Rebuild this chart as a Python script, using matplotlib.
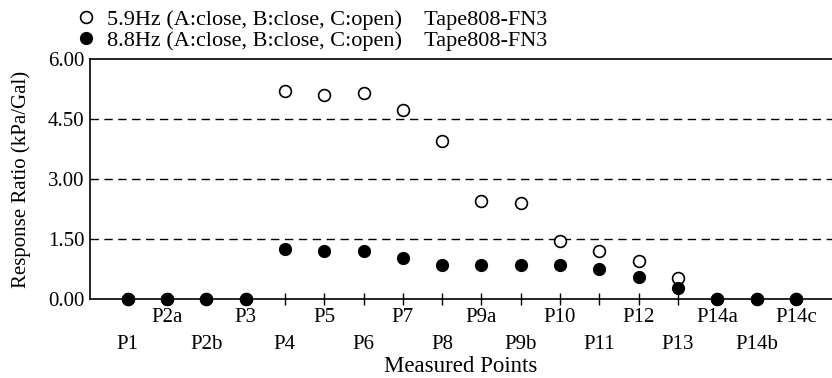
import matplotlib
matplotlib.use('Agg')
import matplotlib.pyplot as plt

plt.rcParams['font.family'] = ['Liberation Serif', 'DejaVu Serif']

# measured points, left to right
points = ['P1', 'P2a', 'P2b', 'P3', 'P4', 'P5', 'P6', 'P7', 'P8', 'P9a',
          'P9b', 'P10', 'P11', 'P12', 'P13', 'P14a', 'P14b', 'P14c']

# response ratio (kPa/Gal)
ratio_59 = [0.0, 0.0, 0.0, 0.0, 5.21, 5.10, 5.14, 4.72, 3.95, 2.45,
            2.39, 1.46, 1.20, 0.95, 0.52, 0.0, 0.0, 0.0]
ratio_88 = [0.0, 0.0, 0.0, 0.0, 1.24, 1.21, 1.21, 1.03, 0.85, 0.85,
            0.85, 0.85, 0.74, 0.56, 0.28, 0.0, 0.0, 0.0]

label_59 = '5.9Hz (A:close, B:close, C:open)    Tape808-FN3'
label_88 = '8.8Hz (A:close, B:close, C:open)    Tape808-FN3'

yticks = [0.0, 1.5, 3.0, 4.5, 6.0]

fig = plt.figure(figsize=(8.32, 3.78), dpi=100)
ax = fig.add_axes([90 / 832, 1 - 299 / 378, 1 - 90 / 832, 240 / 378])

x = list(range(1, len(points) + 1))

h1, = ax.plot(x, ratio_59, 'o', mfc='white', mec='black', mew=1.2,
              ms=8.5, clip_on=False, zorder=3, label=label_59)
h2, = ax.plot(x, ratio_88, 'o', color='black', ms=8.5,
              clip_on=False, zorder=4, label=label_88)

for yv in yticks[1:-1]:
    ax.axhline(yv, color='black', lw=1.0, ls=(0, (6, 4)), zorder=1)

ax.set_xlim(0.04, 18.92)
ax.set_ylim(0, 6)

ax.set_yticks(yticks)
ax.set_yticklabels(['%.2f' % v for v in yticks], fontsize=15)
ax.tick_params(axis='y', length=0, pad=4)

# two rows of x tick labels: even positions on top, odd below
ax.set_xticks(x[1::2])
ax.set_xticklabels(points[1::2], fontsize=15)
ax.set_xticks(x[0::2], minor=True)
ax.set_xticklabels(points[0::2], minor=True, fontsize=15)
ax.tick_params(axis='x', which='major', direction='inout', length=8,
               width=1, pad=2.5)
ax.tick_params(axis='x', which='minor', direction='inout', length=8,
               width=1, pad=22)

ax.spines['right'].set_visible(False)
for s in ['left', 'bottom', 'top']:
    ax.spines[s].set_linewidth(1.2)

ax.set_xlabel('Measured Points', fontsize=16.5, labelpad=1.5)
ax.set_ylabel('Response Ratio (kPa/Gal)', fontsize=15, labelpad=12)

fig.legend(handles=[h1, h2], loc='upper left',
           bbox_to_anchor=(77 / 832, 1 - 9 / 378), frameon=False,
           fontsize=16, handlelength=0.8, handletextpad=0.55,
           labelspacing=0.05, borderaxespad=0.0, borderpad=0.0)

fig.savefig('out.png', dpi=100)
